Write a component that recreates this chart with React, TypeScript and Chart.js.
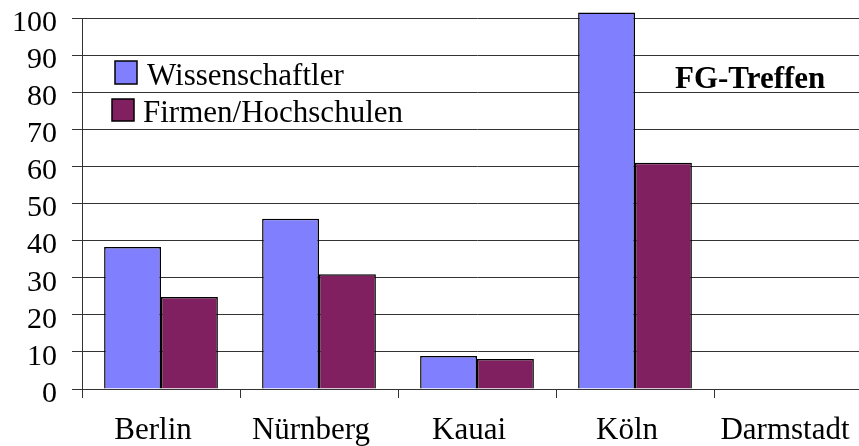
import React, { useEffect, useRef } from "react";
import { Chart, registerables } from "chart.js";

Chart.register(...registerables);

const categories = ["Berlin", "Nürnberg", "Kauai", "Köln", "Darmstadt"];
const wissenschaftler = [38.3, 45.9, 8.9, 101.5, null];
const firmenHochschulen = [24.8, 30.9, 8.1, 61, null];
const seriesNames = ["Wissenschaftler", "Firmen/Hochschulen"];
const chartTitle = "FG-Treffen";
const yMin = 0;
const yMax = 100;
const yStep = 10;

const FONT = "'Liberation Serif', 'Times New Roman', serif";

const overlayPlugin = {
  id: "overlay",
  afterDraw(chart: any) {
    const ctx = chart.ctx;
    ctx.save();
    const boxes = [
      { x: 115, y: 61, w: 22, h: 23, tx: 147, ty: 85 },
      { x: 112, y: 99, w: 22, h: 22, tx: 143, ty: 122 },
    ];
    chart.data.datasets.forEach((ds: any, i: number) => {
      const b = boxes[i];
      if (!b) return;
      ctx.fillStyle = ds.backgroundColor;
      ctx.fillRect(b.x, b.y, b.w, b.h);
      ctx.lineWidth = 1.5;
      ctx.strokeStyle = "#000";
      ctx.strokeRect(b.x, b.y, b.w, b.h);
      ctx.fillStyle = "#000";
      ctx.font = `31px ${FONT}`;
      ctx.textAlign = "left";
      ctx.textBaseline = "alphabetic";
      ctx.fillText(ds.label, b.tx, b.ty);
    });
    ctx.font = `bold 31px ${FONT}`;
    ctx.fillStyle = "#000";
    ctx.textAlign = "left";
    ctx.textBaseline = "alphabetic";
    ctx.fillText(chartTitle, 675, 88);
    ctx.restore();
  },
};

export default function App() {
  const ref = useRef<HTMLCanvasElement | null>(null);
  useEffect(() => {
    if (!ref.current) return;
    const chart = new Chart(ref.current, {
      type: "bar",
      data: {
        labels: categories,
        datasets: [
          {
            label: seriesNames[0],
            data: wissenschaftler,
            backgroundColor: "#8080ff",
            borderColor: "#000",
            borderWidth: 1.5,
            categoryPercentage: 0.72,
            barPercentage: 1.0,
            clip: false,
          } as any,
          {
            label: seriesNames[1],
            data: firmenHochschulen,
            backgroundColor: "#802060",
            borderColor: "#000",
            borderWidth: 1.5,
            categoryPercentage: 0.72,
            barPercentage: 1.0,
            clip: false,
          } as any,
        ],
      },
      options: {
        responsive: false,
        animation: false,
        devicePixelRatio: 1,
        layout: { padding: { top: 18, left: 0, right: 0, bottom: 0 } },
        plugins: {
          legend: { display: false },
          title: { display: false },
          tooltip: { enabled: false },
        },
        scales: {
          x: {
            grid: {
              drawOnChartArea: false,
              drawTicks: true,
              tickLength: 9,
              color: "#333",
              offset: true,
            },
            border: { display: true, color: "#333", width: 1 },
            ticks: {
              font: { family: FONT, size: 31 },
              color: "#000",
              padding: 14,
              labelOffset: -8,
              maxRotation: 0,
              autoSkip: false,
            },
            afterFit: (s: any) => {
              s.height = 57;
              s.paddingLeft = 0;
              s.paddingRight = 0;
            },
          },
          y: {
            min: yMin,
            max: yMax,
            grid: { color: "#333", lineWidth: 1, tickLength: 10, drawTicks: true },
            border: { display: true, color: "#333", width: 1 },
            ticks: {
              stepSize: yStep,
              font: { family: FONT, size: 30 },
              color: "#000",
              padding: 15,
              labelOffset: 5,
              includeBounds: false,
              autoSkip: false,
            },
            afterFit: (s: any) => {
              s.width = 82;
              s.paddingTop = 0;
              s.paddingBottom = 0;
            },
          },
        },
      },
      plugins: [overlayPlugin],
    });
    return () => chart.destroy();
  }, []);

  return (
    <div
      style={{
        position: "fixed",
        left: 0,
        top: 0,
        width: 859,
        height: 446,
        overflow: "hidden",
        background: "#fff",
      }}
    >
      <canvas ref={ref} width={872} height={446} style={{ display: "block" }} />
    </div>
  );
}
